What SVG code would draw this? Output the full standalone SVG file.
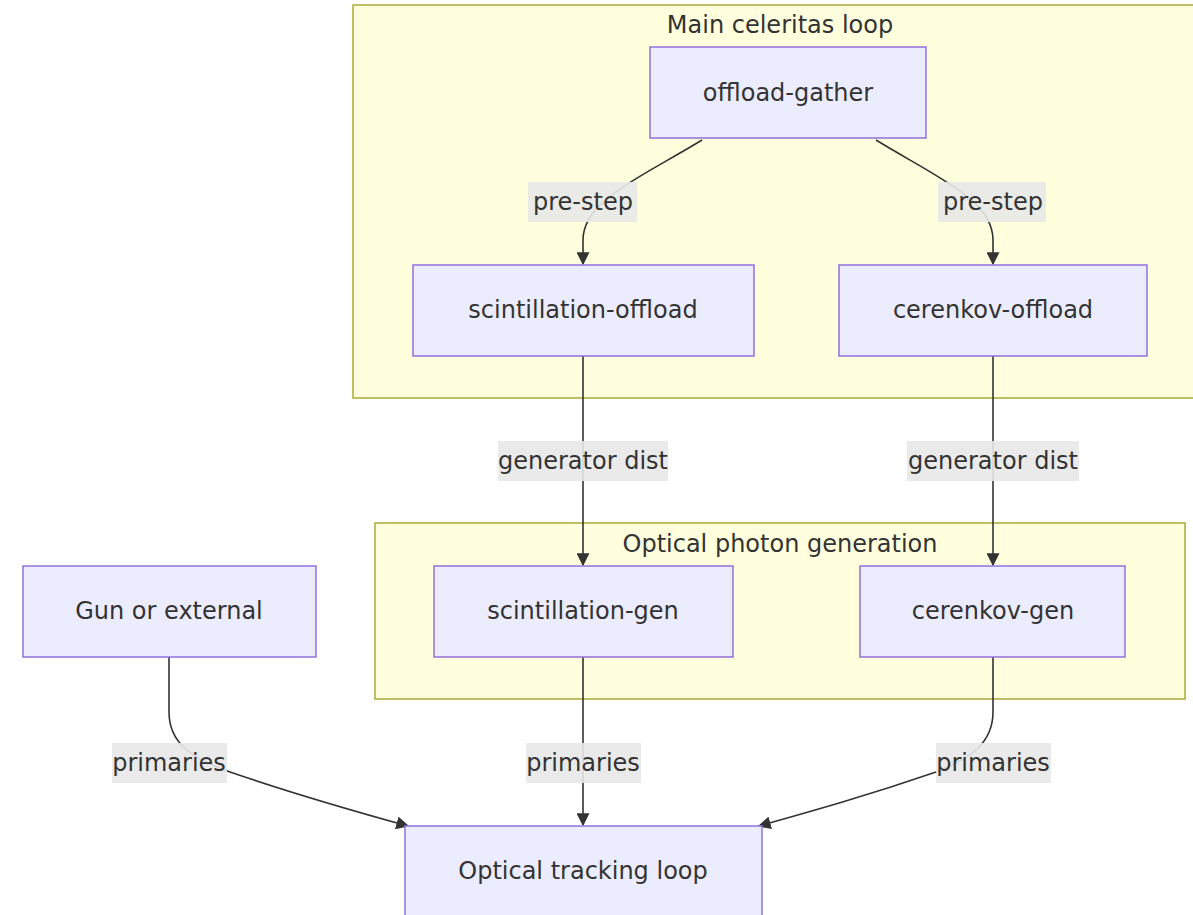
<svg xmlns="http://www.w3.org/2000/svg" width="1193" height="915" viewBox="0 0 1193 915">
<style>
.cluster{fill:#ffffde;stroke:#aaaa33;stroke-width:1.5}
.node rect{fill:#ececff;stroke:#9370db;stroke-width:1.5}
text{font-family:"DejaVu Sans","Liberation Sans",sans-serif;font-size:24px;fill:#333;text-anchor:middle;dominant-baseline:central}
.edge{fill:none;stroke:#333;stroke-width:1.6}
.lbl{fill:#e8e8e8;opacity:0.9}
</style>
<defs>
<marker id="arr" viewBox="0 0 10 10" refX="9" refY="5" markerWidth="13" markerHeight="13" markerUnits="userSpaceOnUse" orient="auto">
<path d="M0,0 L10,5 L0,10 z" fill="#333"/>
</marker>
</defs>
<rect width="1193" height="915" fill="#fff"/>
<g id="cluster-main">
<rect class="cluster" x="353" y="5" width="842" height="393"/>
<text x="780" y="25">Main celeritas loop</text>
</g>
<g id="cluster-optical">
<rect class="cluster" x="375" y="523" width="810" height="176"/>
<text x="780" y="544">Optical photon generation</text>
</g>
<g id="connectors">
<path class="edge" d="M702,140 C640,178 583,200 583,240 L583,264" marker-end="url(#arr)"/>
<path class="edge" d="M876,140 C938,178 993,200 993,240 L993,264" marker-end="url(#arr)"/>
<path class="edge" d="M583,356 L583,565" marker-end="url(#arr)"/>
<path class="edge" d="M993,356 L993,565" marker-end="url(#arr)"/>
<path class="edge" d="M169,657 L169,712 C169,742 190,758 230,772 C300,796 350,810 408,826" marker-end="url(#arr)"/>
<path class="edge" d="M583,657 L583,825" marker-end="url(#arr)"/>
<path class="edge" d="M993,657 L993,712 C993,742 972,758 936,772 C866,796 816,810 759,826" marker-end="url(#arr)"/>
<rect class="lbl" x="528" y="182" width="109" height="40"/>
<text x="583" y="202">pre-step</text>
<rect class="lbl" x="938" y="182" width="108" height="40"/>
<text x="993" y="202">pre-step</text>
<rect class="lbl" x="498" y="441" width="170" height="40"/>
<text x="583" y="461">generator dist</text>
<rect class="lbl" x="907" y="441" width="172" height="40"/>
<text x="993" y="461">generator dist</text>
<rect class="lbl" x="112" y="743" width="115" height="40"/>
<text x="169" y="763">primaries</text>
<rect class="lbl" x="526" y="743" width="115" height="40"/>
<text x="583" y="763">primaries</text>
<rect class="lbl" x="936" y="743" width="115" height="40"/>
<text x="993" y="763">primaries</text>
</g>
<g id="offload-gather" class="node"><rect x="650" y="47" width="276" height="91"/><text x="788" y="93">offload-gather</text></g>
<g id="scintillation-offload" class="node"><rect x="413" y="265" width="341" height="91"/><text x="583" y="310">scintillation-offload</text></g>
<g id="cerenkov-offload" class="node"><rect x="839" y="265" width="308" height="91"/><text x="993" y="310">cerenkov-offload</text></g>
<g id="gun" class="node"><rect x="23" y="566" width="293" height="91"/><text x="169" y="611">Gun or external</text></g>
<g id="scintillation-gen" class="node"><rect x="434" y="566" width="299" height="91"/><text x="583" y="611">scintillation-gen</text></g>
<g id="cerenkov-gen" class="node"><rect x="860" y="566" width="265" height="91"/><text x="993" y="611">cerenkov-gen</text></g>
<g id="optical-tracking" class="node"><rect x="405" y="826" width="357" height="95"/><text x="583" y="871">Optical tracking loop</text></g>
</svg>
